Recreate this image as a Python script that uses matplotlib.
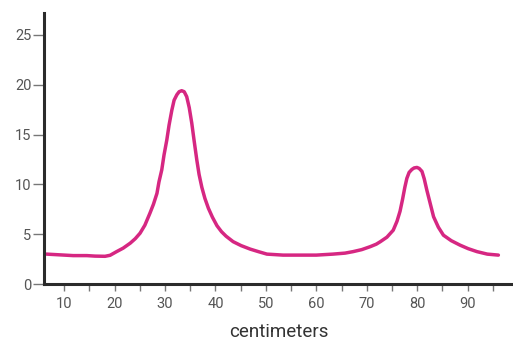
import matplotlib
matplotlib.use("Agg")
import matplotlib.pyplot as plt

# curve (centimeters, value)
cm = [6.5, 11.8, 14.5, 16.1, 18.1, 19.1, 20.4, 21.7, 23.1, 24.1, 25.05, 26.0,
      27.0, 27.7, 28.4, 28.8, 29.35, 29.8, 30.35, 30.8, 31.35, 31.8, 32.35,
      32.8, 33.3, 33.8, 34.3, 34.8, 35.3, 35.75, 36.3, 36.75, 37.3, 37.9,
      38.6, 39.4, 40.3, 41.2, 42.1, 43.5, 45.1, 46.9, 48.5, 50.2, 53.4, 56.8,
      60.0, 63.3, 65.7, 67.3, 69.0, 70.7, 71.9, 72.7, 74.0, 75.25, 76.0, 76.6,
      77.1, 77.55, 77.95, 78.4, 78.95, 79.4, 79.95, 80.4, 80.95, 81.4, 81.9,
      82.6, 83.25, 84.2, 85.2, 86.75, 88.5, 90.1, 91.85, 93.9, 96.1]
values = [3.0, 2.85, 2.85, 2.8, 2.78, 2.88, 3.25, 3.6, 4.1, 4.55, 5.1, 5.9,
          7.1, 8.0, 9.1, 10.25, 11.45, 12.95, 14.45, 15.95, 17.45, 18.45, 19.0,
          19.3, 19.4, 19.3, 18.8, 17.7, 16.15, 14.45, 12.45, 11.0, 9.7, 8.6,
          7.6, 6.7, 5.85, 5.25, 4.8, 4.25, 3.85, 3.5, 3.25, 3.0, 2.9, 2.9,
          2.9, 3.0, 3.1, 3.25, 3.45, 3.75, 4.0, 4.25, 4.7, 5.4, 6.3, 7.3,
          8.5, 9.7, 10.6, 11.2, 11.5, 11.65, 11.7, 11.6, 11.3, 10.55, 9.45,
          8.05, 6.75, 5.7, 4.9, 4.35, 3.9, 3.55, 3.25, 3.0, 2.9]

y_ticks = [0, 5, 10, 15, 20, 25]
x_major = [10, 20, 30, 40, 50, 60, 70, 80, 90]
x_minor = [15, 25, 35, 45, 55, 65, 75, 85, 95]

plt.rcParams['font.family'] = ['Roboto', 'DejaVu Sans']

fig = plt.figure(figsize=(5.13, 3.42), dpi=100)
ax = fig.add_axes([44 / 513, 58 / 342, 469 / 513, 271 / 342])

ax.plot(cm, values, color='#d62782', lw=2.5, solid_joinstyle='round',
        solid_capstyle='round', clip_on=False)

ax.set_xlim(6, 99)
ax.set_ylim(0, 27.2)

ax.spines['top'].set_visible(False)
ax.spines['right'].set_visible(False)
for s in ('left', 'bottom'):
    ax.spines[s].set_color('#2b2b2b')
    ax.spines[s].set_linewidth(2.2)

ax.set_yticks(y_ticks)
ax.set_xticks(x_major)
ax.set_xticks(x_minor, minor=True)
ax.tick_params(axis='y', length=8, width=1, color='#777777', labelcolor='#555555',
               labelsize=10.5, pad=1)
ax.tick_params(axis='x', which='both', length=5, width=1, color='#777777',
               labelcolor='#555555', labelsize=10.5, pad=4)

ax.set_xlabel('centimeters', fontsize=13.5, color='#333333', labelpad=9)

fig.savefig('out.png', dpi=100)
